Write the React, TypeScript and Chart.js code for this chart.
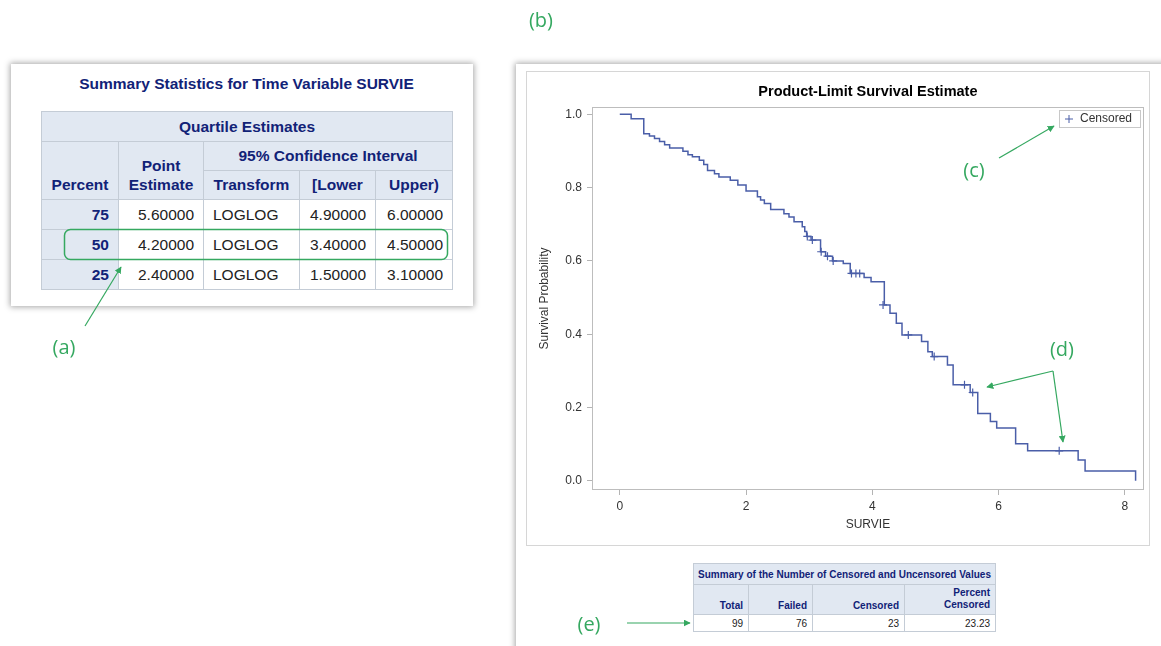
import React, { useEffect, useRef } from 'react';
import { Chart, registerables } from 'chart.js';

Chart.register(...registerables);

// ---------- Data ----------
const eventTimes = [0, 0.18, 0.38, 0.47, 0.55, 0.63, 0.71, 0.79, 1.0, 1.08, 1.15, 1.26, 1.33, 1.39, 1.5, 1.57, 1.75, 1.87, 2.0, 2.18, 2.23, 2.29, 2.39, 2.6, 2.68, 2.76, 2.89, 2.93, 2.96, 3.03, 3.18, 3.26, 3.37, 3.54, 3.65, 3.87, 3.98, 4.19, 4.28, 4.38, 4.47, 4.78, 4.88, 4.95, 5.19, 5.28, 5.55, 5.67, 5.87, 5.97, 6.27, 6.46, 7.26, 7.37, 8.17];
const survivalValues = [1.0, 0.988, 0.947, 0.941, 0.934, 0.926, 0.917, 0.908, 0.899, 0.89, 0.884, 0.875, 0.863, 0.847, 0.838, 0.829, 0.82, 0.807, 0.791, 0.775, 0.766, 0.757, 0.74, 0.729, 0.72, 0.707, 0.693, 0.68, 0.667, 0.657, 0.625, 0.613, 0.6, 0.593, 0.566, 0.555, 0.543, 0.48, 0.457, 0.43, 0.398, 0.38, 0.352, 0.339, 0.316, 0.262, 0.241, 0.184, 0.162, 0.144, 0.101, 0.082, 0.057, 0.027, 0.0];
const censorTimes = [2.97, 3.05, 3.19, 3.29, 3.38, 3.67, 3.74, 3.8, 4.17, 4.57, 4.98, 5.46, 5.59, 6.96];
const censorValues = [0.667, 0.657, 0.625, 0.613, 0.6, 0.566, 0.566, 0.566, 0.48, 0.398, 0.339, 0.262, 0.241, 0.082];
const xTickValues = [0, 2, 4, 6, 8];
const yTickValues = [0, 0.2, 0.4, 0.6, 0.8, 1.0];

const quartilePercents = ['75', '50', '25'];
const pointEstimates = ['5.60000', '4.20000', '2.40000'];
const transforms = ['LOGLOG', 'LOGLOG', 'LOGLOG'];
const lowerLimits = ['4.90000', '3.40000', '1.50000'];
const upperLimits = ['6.00000', '4.50000', '3.10000'];
const censorSummaryValues = ['99', '76', '23', '23.23'];

const plotTitle = 'Product-Limit Survival Estimate';
const legendLabel = 'Censored';

// ---------- Styles ----------
const FONT = '"Liberation Sans", Arial, sans-serif';
const LINE = '#4a5ea8';
const GREEN = '#35a860';
const NAVY = '#112277';
const HEAD_BG = '#e1e8f2';
const CELL_BORDER = '#c4ccd6';
const AXIS_TEXT = '#333333';

const framePlugin = {
  id: 'kmFrame',
  afterDraw(chart: any) {
    const { ctx, chartArea: a } = chart;
    ctx.save();
    // plot frame
    ctx.strokeStyle = '#bdbdbd';
    ctx.lineWidth = 1;
    ctx.strokeRect(Math.round(a.left) + 0.5, Math.round(a.top) + 0.5, Math.round(a.right - a.left) - 1, Math.round(a.bottom - a.top) - 1);
    // title centred over the plot area
    ctx.fillStyle = '#000';
    ctx.font = `bold 14.5px ${FONT}`;
    ctx.textAlign = 'center';
    ctx.textBaseline = 'middle';
    ctx.fillText(plotTitle, (a.left + a.right) / 2, 20);
    // legend box (inside the plot, top-right)
    const bw = 81, bh = 17;
    const bx = Math.round(a.right) - 85;
    const by = Math.round(a.top) + 3;
    ctx.strokeStyle = '#c8c8c8';
    ctx.strokeRect(bx + 0.5, by + 0.5, bw, bh);
    const cx = bx + 10, cy = by + bh / 2 + 0.5;
    ctx.strokeStyle = LINE;
    ctx.beginPath();
    ctx.moveTo(cx - 4, cy); ctx.lineTo(cx + 4, cy);
    ctx.moveTo(cx, cy - 4); ctx.lineTo(cx, cy + 4);
    ctx.stroke();
    ctx.fillStyle = AXIS_TEXT;
    ctx.font = `12px ${FONT}`;
    ctx.textBaseline = 'middle';
    ctx.textAlign = 'left';
    ctx.fillText(legendLabel, bx + 21, cy);
    ctx.restore();
  },
};

const th: React.CSSProperties = {
  background: HEAD_BG,
  color: NAVY,
  fontWeight: 'bold',
  border: `1px solid ${CELL_BORDER}`,
  padding: '0 6px',
  textAlign: 'center',
  whiteSpace: 'nowrap',
};
const td: React.CSSProperties = {
  background: '#ffffff',
  color: '#222',
  border: `1px solid ${CELL_BORDER}`,
  padding: '0 8px',
  textAlign: 'right',
  whiteSpace: 'nowrap',
};

export default function App() {
  const canvasRef = useRef<HTMLCanvasElement>(null);

  useEffect(() => {
    const kmData = eventTimes.map((t, i) => ({ x: t, y: survivalValues[i] }));
    const censorData = censorTimes.map((t, i) => ({ x: t, y: censorValues[i] }));
    const tickFont = { family: FONT, size: 12 };
    const chart = new Chart(canvasRef.current as HTMLCanvasElement, {
      type: 'scatter',
      data: {
        datasets: [
          {
            label: 'Survival',
            data: kmData,
            showLine: true,
            stepped: 'before',
            borderColor: LINE,
            borderWidth: 1.5,
            pointRadius: 0,
            fill: false,
          } as any,
          {
            label: legendLabel,
            data: censorData,
            showLine: false,
            pointStyle: 'cross',
            pointRadius: 4,
            borderColor: LINE,
            backgroundColor: LINE,
            borderWidth: 1.2,
          } as any,
        ],
      },
      options: {
        animation: false,
        responsive: true,
        maintainAspectRatio: false,
        layout: { padding: { left: 0, right: 2, top: 35, bottom: 0 } },
        plugins: {
          legend: { display: false },
          tooltip: { enabled: false },
          title: { display: false },
        },
        scales: {
          x: {
            type: 'linear',
            min: -0.44,
            max: 8.3,
            afterBuildTicks: (s: any) => {
              s.ticks = xTickValues.map((v) => ({ value: v }));
            },
            afterFit: (s: any) => {
              s.height = 55;
            },
            ticks: { font: tickFont, color: AXIS_TEXT, padding: 4, callback: (v: any) => String(v) },
            grid: { display: true, drawOnChartArea: false, drawTicks: true, tickLength: 5, color: '#b4b4b4' },
            border: { display: false },
            title: { display: true, text: 'SURVIE', font: tickFont, color: AXIS_TEXT, padding: { top: 0, bottom: 13.5 } },
          },
          y: {
            type: 'linear',
            min: -0.025,
            max: 1.02,
            afterBuildTicks: (s: any) => {
              s.ticks = yTickValues.map((v) => ({ value: v }));
            },
            afterFit: (s: any) => {
              s.width = 65;
            },
            ticks: { font: tickFont, color: AXIS_TEXT, padding: 5, callback: (v: any) => Number(v).toFixed(1) },
            grid: { display: true, drawOnChartArea: false, drawTicks: true, tickLength: 5, color: '#b4b4b4' },
            border: { display: false },
            title: { display: true, text: 'Survival Probability', font: tickFont, color: AXIS_TEXT, padding: { top: 10.8, bottom: 0 } },
          },
        },
      } as any,
      plugins: [framePlugin],
    });
    return () => chart.destroy();
  }, []);

  const greenLabel = (text: string, x: number, y: number) => (
    <div
      style={{
        position: 'absolute',
        left: x - 30,
        top: y - 13,
        width: 60,
        height: 26,
        lineHeight: '26px',
        textAlign: 'center',
        color: GREEN,
        fontFamily: '"Open Sans", "Noto Sans", sans-serif',
        fontSize: 20,
      }}
    >
      {text}
    </div>
  );

  return (
    <div style={{ position: 'absolute', left: 0, top: 0, width: 1161, height: 646, overflow: 'hidden', background: '#ffffff', fontFamily: FONT }}>
      {/* Left panel: quartile estimates */}
      <div style={{ position: 'absolute', left: 11, top: 64, width: 462, height: 242, background: '#fff', boxShadow: '0 0 6px 1px rgba(0,0,0,0.35)' }} />
      <div style={{ position: 'absolute', left: 41, top: 73, width: 411, textAlign: 'center', color: NAVY, fontWeight: 'bold', fontSize: 15.5, lineHeight: '22px' }}>
        Summary Statistics for Time Variable SURVIE
      </div>
      <table style={{ position: 'absolute', left: 41, top: 111, width: 411, borderCollapse: 'collapse', tableLayout: 'fixed', fontSize: 15.5, fontFamily: FONT }}>
        <colgroup>
          {[77, 85, 96, 76, 77].map((w, i) => (
            <col key={i} style={{ width: w }} />
          ))}
        </colgroup>
        <tbody>
          <tr style={{ height: 30 }}>
            <th colSpan={5} style={th}>Quartile Estimates</th>
          </tr>
          <tr style={{ height: 29 }}>
            <th rowSpan={2} style={{ ...th, verticalAlign: 'bottom', paddingBottom: 5 }}>Percent</th>
            <th rowSpan={2} style={{ ...th, verticalAlign: 'bottom', paddingBottom: 5, lineHeight: '19px' }}>
              Point
              <br />
              Estimate
            </th>
            <th colSpan={3} style={th}>95% Confidence Interval</th>
          </tr>
          <tr style={{ height: 29 }}>
            <th style={th}>Transform</th>
            <th style={th}>[Lower</th>
            <th style={th}>Upper)</th>
          </tr>
          {quartilePercents.map((p, i) => (
            <tr key={p} style={{ height: 30 }}>
              <th style={{ ...th, textAlign: 'right', padding: '0 9px' }}>{p}</th>
              <td style={{ ...td, padding: '0 9px' }}>{pointEstimates[i]}</td>
              <td style={{ ...td, textAlign: 'left', padding: '0 9px' }}>{transforms[i]}</td>
              <td style={{ ...td, padding: '0 9px' }}>{lowerLimits[i]}</td>
              <td style={{ ...td, padding: '0 9px' }}>{upperLimits[i]}</td>
            </tr>
          ))}
        </tbody>
      </table>

      {/* Right panel: survival plot */}
      <div style={{ position: 'absolute', left: 516, top: 64, width: 700, height: 640, background: '#fff', boxShadow: '0 0 6px 1px rgba(0,0,0,0.35)' }} />
      <div style={{ position: 'absolute', left: 526, top: 71, width: 624, height: 475, boxSizing: 'border-box', border: '1px solid #d6d6d6', background: '#fff' }} />
      <div style={{ position: 'absolute', left: 527, top: 72, width: 622, height: 473 }}>
        <canvas ref={canvasRef} />
      </div>

      {/* Censored summary table */}
      <table style={{ position: 'absolute', left: 693, top: 563, width: 302, borderCollapse: 'collapse', tableLayout: 'fixed', fontSize: 10, fontFamily: FONT }}>
        <colgroup>
          {[55, 64, 92, 91].map((w, i) => (
            <col key={i} style={{ width: w }} />
          ))}
        </colgroup>
        <tbody>
          <tr style={{ height: 21 }}>
            <th colSpan={4} style={{ ...th, padding: '0 3px' }}>Summary of the Number of Censored and Uncensored Values</th>
          </tr>
          <tr style={{ height: 30 }}>
            <th style={{ ...th, textAlign: 'right', verticalAlign: 'bottom', padding: '0 5px 3px 5px' }}>Total</th>
            <th style={{ ...th, textAlign: 'right', verticalAlign: 'bottom', padding: '0 5px 3px 5px' }}>Failed</th>
            <th style={{ ...th, textAlign: 'right', verticalAlign: 'bottom', padding: '0 5px 3px 5px' }}>Censored</th>
            <th style={{ ...th, textAlign: 'right', verticalAlign: 'bottom', padding: '0 5px 3px 5px', lineHeight: '12px' }}>
              Percent
              <br />
              Censored
            </th>
          </tr>
          <tr style={{ height: 17 }}>
            {censorSummaryValues.map((v, i) => (
              <td key={i} style={{ ...td, padding: '0 5px' }}>{v}</td>
            ))}
          </tr>
        </tbody>
      </table>

      {/* Annotations */}
      <svg width={1161} height={646} style={{ position: 'absolute', left: 0, top: 0, pointerEvents: 'none' }}>
        <defs>
          <marker id="arr" viewBox="0 0 10 10" refX="9" refY="5" markerWidth="7" markerHeight="7" orient="auto-start-reverse" markerUnits="userSpaceOnUse">
            <path d="M0,0 L10,5 L0,10 z" fill={GREEN} />
          </marker>
        </defs>
        <rect x={64.5} y={229.5} width={383} height={30} rx={6} ry={6} fill="none" stroke={GREEN} strokeWidth={1.5} />
        <line x1={85} y1={326} x2={121} y2={267} stroke={GREEN} strokeWidth={1.2} markerEnd="url(#arr)" />
        <line x1={999} y1={158} x2={1054} y2={126} stroke={GREEN} strokeWidth={1.2} markerEnd="url(#arr)" />
        <line x1={1053} y1={371} x2={987} y2={387} stroke={GREEN} strokeWidth={1.2} markerEnd="url(#arr)" />
        <line x1={1053} y1={371} x2={1063} y2={442} stroke={GREEN} strokeWidth={1.2} markerEnd="url(#arr)" />
        <line x1={627} y1={623} x2={690} y2={623} stroke={GREEN} strokeWidth={1.2} markerEnd="url(#arr)" />
      </svg>
      {greenLabel('(a)', 64, 347)}
      {greenLabel('(b)', 541, 20)}
      {greenLabel('(c)', 974, 170)}
      {greenLabel('(d)', 1062, 349)}
      {greenLabel('(e)', 589, 624)}
    </div>
  );
}
